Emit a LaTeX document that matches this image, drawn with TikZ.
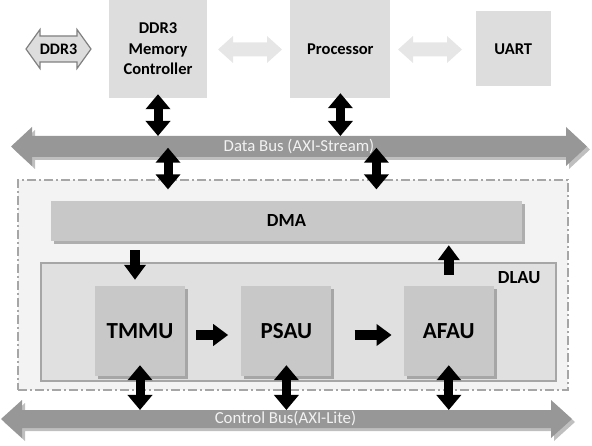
\documentclass[tikz,border=0pt]{standalone}
\usepackage{fontspec}
\setmainfont{Carlito}
\usetikzlibrary{positioning,calc,shadows,arrows.meta}
\definecolor{boxgray}{HTML}{DDDDDD}
\definecolor{unitgray}{HTML}{C8C8C8}
\definecolor{busgray}{HTML}{979797}
\definecolor{linegray}{HTML}{A6A6A6}
\definecolor{palegray}{HTML}{E6E6E6}
\definecolor{dlaugray}{HTML}{E0E0E0}
\definecolor{outergray}{HTML}{F3F3F3}
% horizontal double arrow: style, cx, cy, half length, half shaft, half head, head length
\newcommand\busarrow[7]{%
  \path[#1] (#2-#4,#3) -- (#2-#4+#7,#3-#6) -- (#2-#4+#7,#3-#5) -- (#2+#4-#7,#3-#5)
    -- (#2+#4-#7,#3-#6) -- (#2+#4,#3) -- (#2+#4-#7,#3+#6) -- (#2+#4-#7,#3+#5)
    -- (#2-#4+#7,#3+#5) -- (#2-#4+#7,#3+#6) -- cycle;}
\tikzset{
    % Boxes of the top row
    topbox/.style={fill=boxgray, align=center, inner sep=0pt,
                   font=\fontsize{16.5}{20.5}\selectfont\bfseries},
    % Units inside the DLAU
    unit/.style={fill=unitgray, minimum width=90pt, minimum height=90pt,
                 drop shadow={shadow xshift=3pt, shadow yshift=-3pt, fill=gray, opacity=.6},
                 font=\fontsize{23}{26}\selectfont\bfseries},
    % Buses and other wide arrows
    bus/.style={fill=busgray, drop shadow={shadow xshift=3pt, shadow yshift=-3pt, fill=gray, opacity=.5}},
    buslabel/.style={inner sep=0pt, minimum height=20pt, text=white!95!black,
                     font=\fontsize{16.8}{18}\selectfont},
    hollow/.style={fill=boxgray, draw=gray, line width=1.2pt},
    pale/.style={fill=palegray},
    % Black connectors
    dblk/.style={line width=9pt, {Triangle[width=24pt,length=15pt]}-{Triangle[width=24pt,length=15pt]}},
    sblk/.style={line width=10pt, -{Triangle[width=21pt,length=15pt]}}
}
\begin{document}
\begin{tikzpicture}[x=1pt,y=-1pt]
    \useasboundingbox (0,0) rectangle (592,446);
    % top row
    \busarrow{hollow}{58.5}{49}{32.5}{13}{19.5}{14}
    \node[font=\fontsize{16}{18}\selectfont\bfseries, inner sep=0pt] (ddr) at (58.5,49) {DDR3};
    \node[topbox, minimum width=98pt, minimum height=98pt] (mc) at (158,49) {DDR3\\Memory\\Controller};
    \node[topbox, minimum width=100pt, minimum height=98pt, right=83pt of mc] (proc) {Processor};
    \node[topbox, minimum width=75pt, minimum height=75pt, right=85pt of proc] (uart) {UART};
    \busarrow{pale}{250}{49.5}{32}{7}{13.5}{15}
    \busarrow{pale}{430}{49.5}{32}{7}{13.5}{15}

    % accelerator
    \node[fill=outergray, draw=linegray, line width=1.2pt,
          dash pattern=on 9pt off 3pt on 2pt off 3pt,
          minimum width=550pt, minimum height=210pt] (outer) at (293,285) {};
    \node[fill=unitgray, minimum width=471pt, minimum height=40pt,
          drop shadow={shadow xshift=3pt, shadow yshift=-3pt, fill=gray, opacity=.6},
          font=\fontsize{18.5}{20}\selectfont\bfseries] (dma) at (286.5,221) {DMA};
    \node[fill=dlaugray, draw=linegray, line width=1.2pt,
          minimum width=515pt, minimum height=118pt] (dlau) at (298.5,322) {};
    \node[font=\fontsize{18.5}{20}\selectfont\bfseries, inner sep=0pt,
          below left=9pt and 16pt of dlau.north east] (dlaulabel) {DLAU};
    \node[unit] (tmmu) at (140,331) {TMMU};
    \node[unit, right=56pt of tmmu] (psau) {PSAU};
    \node[unit, right=72pt of psau] (afau) {AFAU};

    % buses
    \busarrow{bus}{299}{146.5}{288}{10.5}{19.5}{21}
    \node[buslabel] (dbus) at (299,146.5) {Data Bus (AXI-Stream)};
    \busarrow{bus}{286.5}{419}{285.5}{9}{19}{21}
    \node[buslabel] (cbus) at (285.5,419) {Control Bus(AXI-Lite)};

    % connectors
    \draw[dblk] ($(mc.south)+(0,-4)$) -- (mc.south |- 0,136);
    \draw[dblk] ($(proc.south)+(0,-5)$) -- (proc.south |- 0,136);
    \draw[dblk] ($(mc.south |- dbus.south)+(10,-9)$) -- ($(mc.south |- outer.north)+(10,10)$);
    \draw[dblk] ($(proc.south |- dbus.south)+(36,-9)$) -- ($(proc.south |- outer.north)+(36,10)$);
    \draw[sblk] ($(dma.south -| tmmu.north)+(-5,9)$) -- ($(tmmu.north)+(-5,-6)$);
    \draw[sblk] ($(afau.north)+(0,-11)$) -- ($(dma.south -| afau.north)+(0,4)$);
    \draw[sblk] ($(tmmu.east)+(11,4)$) -- ($(psau.west)+(-13,4)$);
    \draw[sblk] ($(psau.east)+(23,4)$) -- ($(afau.west)+(-12,4)$);
    \draw[dblk] ($(tmmu.south)+(0,-11)$) -- (tmmu.south |- 0,410);
    \draw[dblk] ($(psau.south)+(0,-11)$) -- (psau.south |- 0,410);
    \draw[dblk] ($(afau.south)+(0,-11)$) -- (afau.south |- 0,410);
\end{tikzpicture}
\end{document}
